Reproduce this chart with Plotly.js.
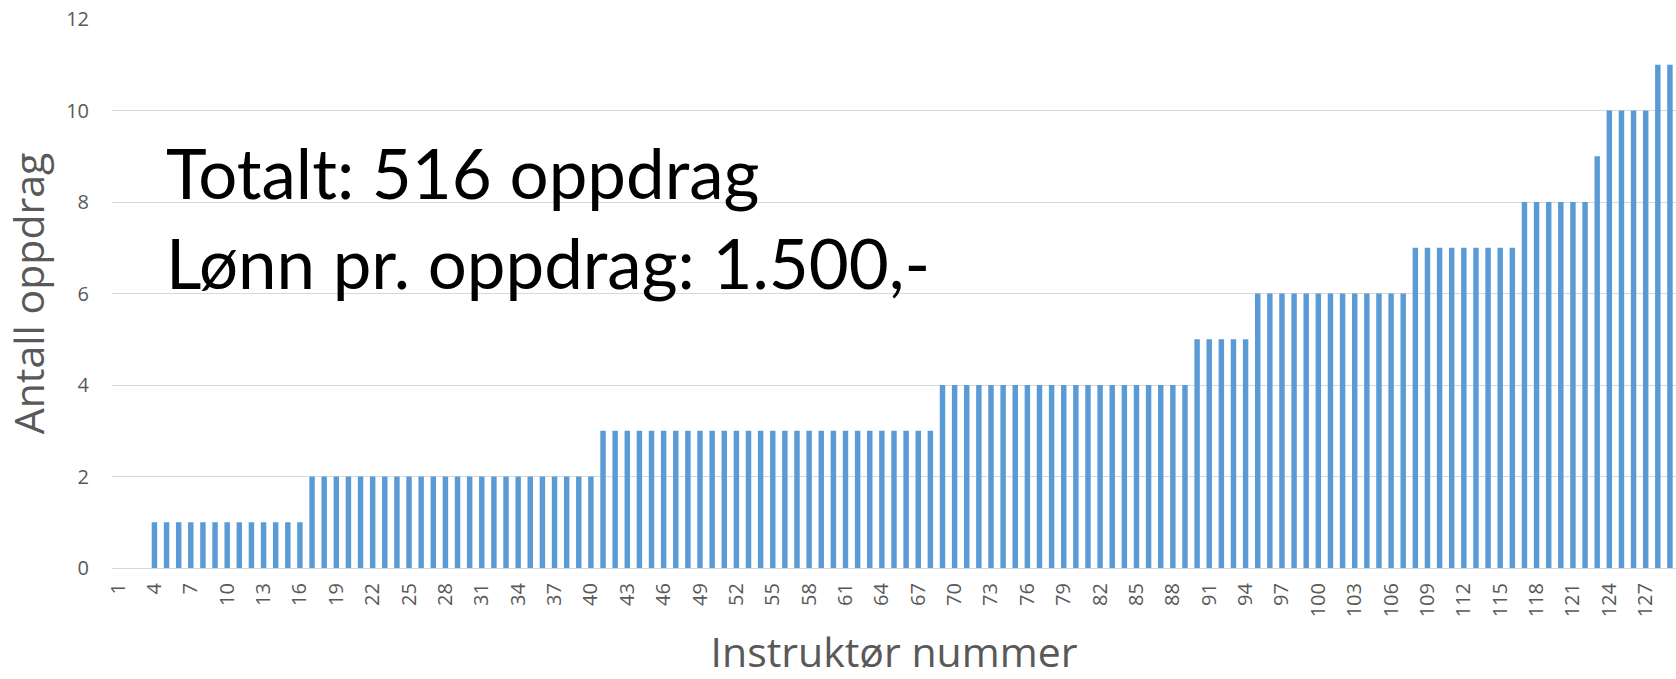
<!DOCTYPE html>
<html>
<head>
<meta charset="utf-8">
<script src="https://cdn.plot.ly/plotly-3.0.1.min.js"></script>
<style>
  html, body { margin: 0; padding: 0; background: #fff; }
  #chart { width: 1676px; height: 679px; }
</style>
</head>
<body>
<div id="chart"></div>
<script>
// instruktør nummer 1..129
var instruktorer = [];
for (var i = 1; i <= 129; i++) instruktorer.push(i);

// antall oppdrag per instruktør, lest av bildet
var antallOppdrag = [
  0, 0, 0,
  1, 1, 1, 1, 1, 1, 1, 1, 1, 1, 1, 1, 1,
  2, 2, 2, 2, 2, 2, 2, 2, 2, 2, 2, 2, 2, 2, 2, 2, 2, 2, 2, 2, 2, 2, 2, 2,
  3, 3, 3, 3, 3, 3, 3, 3, 3, 3, 3, 3, 3, 3, 3, 3, 3, 3, 3, 3, 3, 3, 3, 3, 3, 3, 3, 3,
  4, 4, 4, 4, 4, 4, 4, 4, 4, 4, 4, 4, 4, 4, 4, 4, 4, 4, 4, 4, 4,
  5, 5, 5, 5, 5,
  6, 6, 6, 6, 6, 6, 6, 6, 6, 6, 6, 6, 6,
  7, 7, 7, 7, 7, 7, 7, 7, 7,
  8, 8, 8, 8, 8, 8,
  9,
  10, 10, 10, 10,
  11, 11
];

var tickVerdier = [];
for (var t = 1; t <= 127; t += 3) tickVerdier.push(t);

var trace = {
  x: instruktorer,
  y: antallOppdrag,
  type: 'bar',
  marker: { color: '#5B9BD5' },
  hoverinfo: 'x+y'
};

var layout = {
  width: 1676,
  height: 679,
  margin: { l: 112, r: 0, t: 19, b: 111 },
  paper_bgcolor: '#ffffff',
  plot_bgcolor: '#ffffff',
  bargap: 0.55,
  showlegend: false,
  font: { family: 'Open Sans, sans-serif', color: '#595959' },
  xaxis: {
    range: [0.5, 129.5],
    tickmode: 'array',
    tickvals: tickVerdier,
    ticktext: tickVerdier.map(String),
    tickangle: -90,
    tickfont: { size: 20, color: '#595959' },
    showgrid: false,
    zeroline: false,
    showline: true,
    linecolor: '#d9d9d9',
    linewidth: 1,
    ticks: '',
    ticklabelstandoff: 6,
    title: { text: 'Instruktør nummer', font: { size: 41, color: '#595959' }, standoff: 30 }
  },
  yaxis: {
    range: [0, 12],
    dtick: 2,
    tickfont: { size: 20, color: '#595959' },
    gridcolor: '#d9d9d9',
    gridwidth: 1,
    zeroline: false,
    ticks: '',
    ticklabelstandoff: 22,
    title: { text: 'Antall oppdrag', font: { size: 41, color: '#595959' }, standoff: 14 }
  },
  annotations: [
    {
      xref: 'paper', yref: 'paper',
      x: 0.033, y: 0.80,
      xanchor: 'left', yanchor: 'top',
      align: 'left',
      showarrow: false,
      text: 'Totalt: 516 oppdrag<br>Lønn pr. oppdrag: 1.500,-',
      font: { family: 'Lato, sans-serif', size: 69, color: '#000000' }
    }
  ]
};

Plotly.newPlot('chart', [trace], layout, { displayModeBar: false, responsive: false });
</script>
</body>
</html>
